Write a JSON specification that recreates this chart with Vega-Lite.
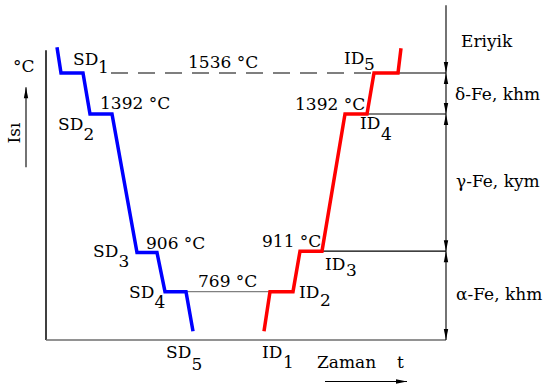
{
  "$schema": "https://vega.github.io/schema/vega-lite/v6.json",
  "width": 547,
  "height": 386,
  "autosize": {"type": "none"},
  "padding": 0,
  "background": "white",
  "config": {"view": {"stroke": null}},
  "datasets": {
    "curves": [
      {"series": "Soğuma", "step": 1, "t": 1.1, "T": 1626},
      {"series": "Soğuma", "step": 2, "t": 1.5, "T": 1536},
      {"series": "Soğuma", "step": 3, "t": 3.7, "T": 1536},
      {"series": "Soğuma", "step": 4, "t": 4.4, "T": 1392},
      {"series": "Soğuma", "step": 5, "t": 6.6, "T": 1392},
      {"series": "Soğuma", "step": 6, "t": 9.1, "T": 906},
      {"series": "Soğuma", "step": 7, "t": 11.1, "T": 906},
      {"series": "Soğuma", "step": 8, "t": 11.9, "T": 769},
      {"series": "Soğuma", "step": 9, "t": 14.0, "T": 769},
      {"series": "Soğuma", "step": 10, "t": 14.7, "T": 630},
      {"series": "Isınma", "step": 1, "t": 21.8, "T": 630},
      {"series": "Isınma", "step": 2, "t": 22.4, "T": 769},
      {"series": "Isınma", "step": 3, "t": 24.7, "T": 769},
      {"series": "Isınma", "step": 4, "t": 25.4, "T": 911},
      {"series": "Isınma", "step": 5, "t": 27.6, "T": 911},
      {"series": "Isınma", "step": 6, "t": 29.9, "T": 1392},
      {"series": "Isınma", "step": 7, "t": 32.1, "T": 1392},
      {"series": "Isınma", "step": 8, "t": 32.8, "T": 1536},
      {"series": "Isınma", "step": 9, "t": 35.2, "T": 1536},
      {"series": "Isınma", "step": 10, "t": 35.5, "T": 1623}
    ],
    "segments": [
      {"kind": "axis", "t1": 0, "T1": 1616, "t2": 0, "T2": 599},
      {"kind": "base", "t1": 0, "T1": 599, "t2": 40, "T2": 599},
      {"kind": "frame", "t1": 40, "T1": 1774, "t2": 40, "T2": 599},
      {"kind": "dashed", "t1": 6.5, "T1": 1536, "t2": 32.7, "T2": 1536},
      {"kind": "ref", "t1": 35.2, "T1": 1536, "t2": 40, "T2": 1536},
      {"kind": "ref", "t1": 32.1, "T1": 1392, "t2": 40, "T2": 1392},
      {"kind": "ref", "t1": 27.6, "T1": 911, "t2": 40, "T2": 911},
      {"kind": "gray", "t1": 14.0, "T1": 769, "t2": 22.4, "T2": 769},
      {"kind": "ref", "t1": -2.0, "T1": 1205, "t2": -2.0, "T2": 1486},
      {"kind": "ref", "t1": 27.9, "T1": 454, "t2": 36.1, "T2": 454}
    ],
    "arrows": [
      {"dir": "down", "t": 40, "T": 1536},
      {"dir": "up", "t": 40, "T": 1536},
      {"dir": "down", "t": 40, "T": 1392},
      {"dir": "up", "t": 40, "T": 1392},
      {"dir": "down", "t": 40, "T": 911},
      {"dir": "up", "t": 40, "T": 911},
      {"dir": "down", "t": 40, "T": 599},
      {"dir": "up", "t": -2.0, "T": 1486},
      {"dir": "right", "t": 36.1, "T": 454}
    ],
    "labels": [
      {"label": "°C", "t": -3.3, "T": 1538},
      {"label": "SD", "t": 2.7, "T": 1563},
      {"label": "1", "t": 5.2, "T": 1535},
      {"label": "1536 °C", "t": 14.2, "T": 1552},
      {"label": "1392 °C", "t": 5.4, "T": 1409},
      {"label": "SD", "t": 1.2, "T": 1335},
      {"label": "2", "t": 3.75, "T": 1300},
      {"label": "SD", "t": 4.7, "T": 890},
      {"label": "3", "t": 7.25, "T": 854},
      {"label": "906 °C", "t": 10.0, "T": 917},
      {"label": "SD", "t": 8.3, "T": 748},
      {"label": "4", "t": 10.85, "T": 713},
      {"label": "769 °C", "t": 15.2, "T": 785},
      {"label": "SD", "t": 12.0, "T": 535},
      {"label": "5", "t": 14.55, "T": 493},
      {"label": "ID", "t": 21.6, "T": 535},
      {"label": "1", "t": 23.7, "T": 500},
      {"label": "Zaman", "t": 27.1, "T": 500},
      {"label": "t", "t": 35.1, "T": 500},
      {"label": "ID", "t": 25.3, "T": 748},
      {"label": "2", "t": 27.4, "T": 718},
      {"label": "ID", "t": 27.9, "T": 846},
      {"label": "3", "t": 30.0, "T": 823},
      {"label": "911 °C", "t": 21.6, "T": 925},
      {"label": "1392 °C", "t": 24.9, "T": 1405},
      {"label": "ID", "t": 31.4, "T": 1341},
      {"label": "4", "t": 33.5, "T": 1300},
      {"label": "ID", "t": 29.8, "T": 1569},
      {"label": "5", "t": 31.8, "T": 1545},
      {"label": "Eriyik", "t": 41.5, "T": 1626},
      {"label": "δ-Fe, khm", "t": 40.9, "T": 1440},
      {"label": "γ-Fe, kym", "t": 41.0, "T": 1136},
      {"label": "α-Fe, khm", "t": 41.0, "T": 738}
    ],
    "vlabels": [
      {"label": "Isı", "t": -2.6, "T": 1289}
    ]
  },
  "resolve": {"scale": {"x": "shared", "y": "shared"}},
  "encoding": {},
  "layer": [
    {
      "data": {"name": "segments"},
      "transform": [{"filter": "datum.kind === 'axis'"}],
      "mark": {"type": "rule", "color": "black", "strokeWidth": 1.5},
      "encoding": {
        "x": {"field": "t1", "type": "quantitative", "scale": {"domain": [-4.6, 50.1], "nice": false, "zero": false}, "axis": null},
        "x2": {"field": "t2"},
        "y": {"field": "T1", "type": "quantitative", "scale": {"domain": [438, 1792], "nice": false, "zero": false}, "axis": null},
        "y2": {"field": "T2"}
      }
    },
    {
      "data": {"name": "segments"},
      "transform": [{"filter": "datum.kind === 'base'"}],
      "mark": {"type": "rule", "color": "#6e6e6e", "strokeWidth": 1.5},
      "encoding": {
        "x": {"field": "t1", "type": "quantitative"},
        "x2": {"field": "t2"},
        "y": {"field": "T1", "type": "quantitative"},
        "y2": {"field": "T2"}
      }
    },
    {
      "data": {"name": "segments"},
      "transform": [{"filter": "datum.kind === 'frame' || datum.kind === 'ref'"}],
      "mark": {"type": "rule", "color": "black", "strokeWidth": 1.1},
      "encoding": {
        "x": {"field": "t1", "type": "quantitative"},
        "x2": {"field": "t2"},
        "y": {"field": "T1", "type": "quantitative"},
        "y2": {"field": "T2"}
      }
    },
    {
      "data": {"name": "segments"},
      "transform": [{"filter": "datum.kind === 'gray'"}],
      "mark": {"type": "rule", "color": "#808080", "strokeWidth": 1.1},
      "encoding": {
        "x": {"field": "t1", "type": "quantitative"},
        "x2": {"field": "t2"},
        "y": {"field": "T1", "type": "quantitative"},
        "y2": {"field": "T2"}
      }
    },
    {
      "data": {"name": "segments"},
      "transform": [{"filter": "datum.kind === 'dashed'"}],
      "mark": {"type": "rule", "color": "black", "strokeWidth": 1.1, "strokeDash": [17, 10]},
      "encoding": {
        "x": {"field": "t1", "type": "quantitative"},
        "x2": {"field": "t2"},
        "y": {"field": "T1", "type": "quantitative"},
        "y2": {"field": "T2"}
      }
    },
    {
      "data": {"name": "curves"},
      "mark": {"type": "line", "strokeWidth": 3.5, "strokeJoin": "miter"},
      "encoding": {
        "x": {"field": "t", "type": "quantitative"},
        "y": {"field": "T", "type": "quantitative"},
        "order": {"field": "step", "type": "quantitative"},
        "color": {"field": "series", "type": "nominal", "scale": {"domain": ["Soğuma", "Isınma"], "range": ["#0000ff", "#ff0000"]}, "legend": null}
      }
    },
    {
      "data": {"name": "arrows"},
      "mark": {"type": "point", "filled": true, "size": 121, "color": "black", "opacity": 1, "strokeWidth": 0},
      "encoding": {
        "x": {"field": "t", "type": "quantitative"},
        "y": {"field": "T", "type": "quantitative"},
        "shape": {"field": "dir", "type": "nominal", "scale": {"domain": ["down", "up", "right"], "range": ["M0,0L-0.4,-2L0.4,-2Z", "M0,0L-0.4,2L0.4,2Z", "M0,0L-2,-0.4L-2,0.4Z"]}, "legend": null}
      }
    },
    {
      "data": {"name": "labels"},
      "mark": {"type": "text", "font": "DejaVu Serif", "fontSize": 17, "align": "left", "baseline": "alphabetic", "color": "black"},
      "encoding": {
        "x": {"field": "t", "type": "quantitative"},
        "y": {"field": "T", "type": "quantitative"},
        "text": {"field": "label"}
      }
    },
    {
      "data": {"name": "vlabels"},
      "mark": {"type": "text", "font": "DejaVu Serif", "fontSize": 17, "align": "left", "baseline": "alphabetic", "angle": 270, "color": "black"},
      "encoding": {
        "x": {"field": "t", "type": "quantitative"},
        "y": {"field": "T", "type": "quantitative"},
        "text": {"field": "label"}
      }
    }
  ]
}
